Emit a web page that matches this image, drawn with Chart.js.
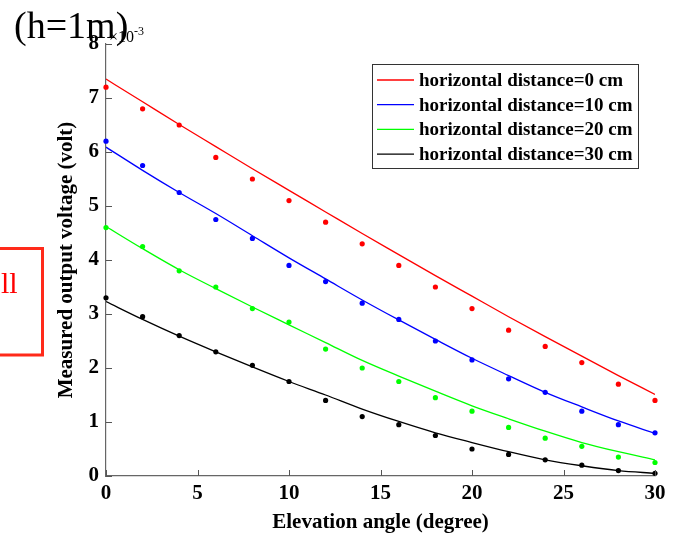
<!DOCTYPE html>
<html>
<head>
<meta charset="utf-8">
<script src="https://cdn.jsdelivr.net/npm/chart.js@4.4.1/dist/chart.umd.min.js"></script>
<style>
  html, body { margin: 0; padding: 0; background: #fff; }
</style>
</head>
<body>
<canvas id="chart" width="677" height="538"></canvas>
<script>
// elevation angle (degree)
const angles = [0, 2, 4, 6, 8, 10, 12, 14, 16, 18, 20, 22, 24, 26, 28, 30];
const seriesNames = ['horizontal distance=0 cm', 'horizontal distance=10 cm', 'horizontal distance=20 cm', 'horizontal distance=30 cm'];
const seriesColors = ['#ff0000', '#0000ff', '#00ff00', '#000000'];

// measured output voltage, in units of 1e-3 volt
const measured0 = [7.2, 6.8, 6.5, 5.9, 5.5, 5.1, 4.7, 4.3, 3.9, 3.5, 3.1, 2.7, 2.4, 2.1, 1.7, 1.4];
const measured10 = [6.2, 5.75, 5.25, 4.75, 4.4, 3.9, 3.6, 3.2, 2.9, 2.5, 2.15, 1.8, 1.55, 1.2, 0.95, 0.8];
const measured20 = [4.6, 4.25, 3.8, 3.5, 3.1, 2.85, 2.35, 2.0, 1.75, 1.45, 1.2, 0.9, 0.7, 0.55, 0.35, 0.25];
const measured30 = [3.3, 2.95, 2.6, 2.3, 2.05, 1.75, 1.4, 1.1, 0.95, 0.75, 0.5, 0.4, 0.3, 0.2, 0.1, 0.05];

// fitted curves at the same angles
const fit0 = [7.35, 6.93, 6.51, 6.10, 5.69, 5.29, 4.89, 4.49, 4.10, 3.71, 3.33, 2.95, 2.58, 2.22, 1.86, 1.51];
const fit10 = [6.09, 5.66, 5.25, 4.86, 4.45, 4.04, 3.65, 3.26, 2.89, 2.53, 2.18, 1.86, 1.55, 1.28, 1.02, 0.79];
const fit20 = [4.62, 4.21, 3.82, 3.47, 3.13, 2.80, 2.47, 2.14, 1.85, 1.57, 1.30, 1.06, 0.83, 0.62, 0.45, 0.30];
const fit30 = [3.23, 2.90, 2.59, 2.30, 2.02, 1.75, 1.50, 1.24, 1.01, 0.80, 0.62, 0.45, 0.30, 0.19, 0.10, 0.05];

const xTicks = [0, 5, 10, 15, 20, 25, 30];
const yTicks = [0, 1, 2, 3, 4, 5, 6, 7, 8];

const serif = "'Liberation Serif', 'Times New Roman', serif";
const measuredSets = [measured0, measured10, measured20, measured30];
const fitSets = [fit0, fit10, fit20, fit30];

function toPoints(values) {
    return angles.map((a, i) => ({ x: a, y: values[i] }));
}

const datasets = [];
fitSets.forEach((vals, i) => {
    datasets.push({
        label: seriesNames[i],
        data: toPoints(vals),
        showLine: true,
        borderColor: seriesColors[i],
        borderWidth: 1.3,
        pointRadius: 0,
        cubicInterpolationMode: 'monotone',
        fill: false
    });
});
measuredSets.forEach((vals, i) => {
    datasets.push({
        label: seriesNames[i] + ' (measured)',
        data: toPoints(vals),
        showLine: false,
        pointRadius: 2.6,
        pointBorderWidth: 0,
        pointBackgroundColor: seriesColors[i],
        clip: false
    });
});

// extra text, inward ticks and the legend box
const decorations = {
    id: 'decorations',
    afterDraw(chart) {
        const ctx = chart.ctx;
        const xs = chart.scales.x, ys = chart.scales.y;
        const area = chart.chartArea;
        ctx.save();

        ctx.strokeStyle = '#555';
        ctx.lineWidth = 1;
        xTicks.forEach(t => {
            const px = Math.round(xs.getPixelForValue(t)) + 0.5;
            ctx.beginPath();
            ctx.moveTo(px, area.bottom);
            ctx.lineTo(px, area.bottom - 6);
            ctx.stroke();
        });
        yTicks.forEach(t => {
            const py = Math.round(ys.getPixelForValue(t)) + 0.5;
            ctx.beginPath();
            ctx.moveTo(area.left, py);
            ctx.lineTo(area.left + 6, py);
            ctx.stroke();
        });

        // exponent label
        ctx.fillStyle = '#000';
        ctx.textBaseline = 'alphabetic';
        ctx.textAlign = 'left';
        ctx.font = '16px ' + serif;
        ctx.fillText('\u00d710', 109, 42);
        const w = ctx.measureText('\u00d710').width;
        ctx.font = '12px ' + serif;
        ctx.fillText('-3', 109 + w, 35);

        // caption cut from the page
        ctx.font = '38px ' + serif;
        ctx.fillText('(h=1m)', 14, 38);

        ctx.strokeStyle = '#ff2a1a';
        ctx.lineWidth = 3;
        ctx.beginPath();
        ctx.moveTo(-5, 248.5);
        ctx.lineTo(42.5, 248.5);
        ctx.lineTo(42.5, 355);
        ctx.lineTo(-5, 355);
        ctx.stroke();
        ctx.fillStyle = '#ff0000';
        ctx.font = '30px ' + serif;
        ctx.fillText('ll', 1, 293);

        // legend
        const bx = 372.5, by = 64.5, bw = 266, bh = 104;
        ctx.fillStyle = '#fff';
        ctx.fillRect(bx, by, bw, bh);
        ctx.strokeStyle = '#333';
        ctx.lineWidth = 1;
        ctx.strokeRect(bx, by, bw, bh);
        ctx.font = 'bold 19px ' + serif;
        ctx.textBaseline = 'middle';
        for (let i = 0; i < 4; i++) {
            const ds = chart.data.datasets[i];
            const ly = by + 15.5 + i * 24.7;
            ctx.strokeStyle = ds.borderColor;
            ctx.lineWidth = 1.3;
            ctx.beginPath();
            ctx.moveTo(377, ly);
            ctx.lineTo(414, ly);
            ctx.stroke();
            ctx.fillStyle = '#000';
            ctx.fillText(ds.label, 419, ly + 1);
        }
        ctx.restore();
    }
};

new Chart(document.getElementById('chart'), {
    type: 'scatter',
    data: { datasets: datasets },
    options: {
        responsive: false,
        animation: false,
        devicePixelRatio: 1,
        layout: { padding: { left: 0, right: 22, top: 44, bottom: 0 } },
        plugins: {
            legend: { display: false },
            tooltip: { enabled: false }
        },
        scales: {
            x: {
                type: 'linear',
                min: 0,
                max: 30,
                afterFit: s => { s.height = 62; },
                afterBuildTicks: s => { s.ticks = xTicks.map(v => ({ value: v })); },
                ticks: { color: '#000', padding: 5, font: { family: serif, size: 21, weight: 'bold' } },
                grid: { display: false, drawTicks: false },
                border: { display: true, color: '#666', width: 1.2 },
                title: {
                    display: true,
                    text: 'Elevation angle (degree)',
                    color: '#000',
                    font: { family: serif, size: 21, weight: 'bold' },
                    padding: { top: 0, bottom: 3 }
                }
            },
            y: {
                type: 'linear',
                min: 0,
                max: 8,
                afterFit: s => { s.width = 106; },
                afterBuildTicks: s => { s.ticks = yTicks.map(v => ({ value: v })); },
                ticks: { color: '#000', padding: 7, font: { family: serif, size: 21, weight: 'bold' } },
                grid: { display: false, drawTicks: false },
                border: { display: true, color: '#666', width: 1.2 },
                title: {
                    display: true,
                    text: 'Measured output voltage (volt)',
                    color: '#000',
                    font: { family: serif, size: 21, weight: 'bold' },
                    padding: { top: 54, bottom: 0 }
                }
            }
        }
    },
    plugins: [decorations]
});
</script>
</body>
</html>
